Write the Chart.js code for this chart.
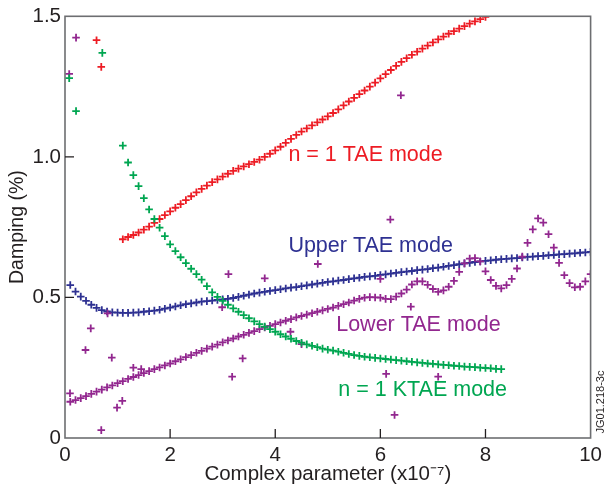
<!DOCTYPE html>
<html>
<head>
<meta charset="utf-8">
<script src="https://cdn.jsdelivr.net/npm/chart.js@4.4.1/dist/chart.umd.min.js"></script>
<style>
  html, body { margin: 0; padding: 0; background: #fff; }
  #wrap { width: 607px; height: 490px; }
</style>
</head>
<body>
<div id="wrap"><canvas id="myChart"></canvas></div>
<script>
// complex parameter grid (x10^-7)
var xGrid = [0.1,0.2,0.3,0.4,0.5,0.6,0.7,0.8,0.9,1.0,
  1.1,1.2,1.3,1.4,1.5,1.6,1.7,1.8,1.9,2.0,
  2.1,2.2,2.3,2.4,2.5,2.6,2.7,2.8,2.9,3.0,
  3.1,3.2,3.3,3.4,3.5,3.6,3.7,3.8,3.9,4.0,
  4.1,4.2,4.3,4.4,4.5,4.6,4.7,4.8,4.9,5.0,
  5.1,5.2,5.3,5.4,5.5,5.6,5.7,5.8,5.9,6.0,
  6.1,6.2,6.3,6.4,6.5,6.6,6.7,6.8,6.9,7.0,
  7.1,7.2,7.3,7.4,7.5,7.6,7.7,7.8,7.9,8.0,
  8.1,8.2,8.3,8.4,8.5,8.6,8.7,8.8,8.9,9.0,
  9.1,9.2,9.3,9.4,9.5,9.6,9.7,9.8,9.9,10.0];

// n = 1 TAE mode (starts at 1.1)
var taeN1 = [null,null,null,null,null,null,null,null,null,null,
  0.707,0.715,0.722,0.731,0.741,0.752,0.765,0.779,0.793,0.806,
  0.819,0.832,0.846,0.860,0.874,0.886,0.898,0.910,0.920,0.930,
  0.940,0.950,0.958,0.966,0.974,0.982,0.990,1.000,1.011,1.023,
  1.036,1.050,1.064,1.078,1.090,1.101,1.112,1.123,1.133,1.144,
  1.156,1.169,1.183,1.197,1.210,1.223,1.236,1.250,1.264,1.279,
  1.294,1.309,1.324,1.338,1.351,1.363,1.374,1.385,1.396,1.407,
  1.418,1.428,1.438,1.447,1.456,1.465,1.474,1.482,1.490,1.498];

// n = 1 KTAE mode (1.1 .. 8.3)
var ktae = [null,null,null,null,null,null,null,null,null,null,
  1.040,0.980,0.935,0.896,0.853,0.813,0.779,0.748,0.718,0.689,
  0.665,0.643,0.622,0.602,0.583,0.563,0.540,0.518,0.502,0.488,
  0.474,0.461,0.449,0.437,0.426,0.415,0.405,0.396,0.387,0.378,
  0.369,0.361,0.353,0.345,0.339,0.333,0.328,0.323,0.318,0.314,
  0.311,0.307,0.303,0.299,0.295,0.292,0.289,0.287,0.285,0.283,
  0.281,0.279,0.277,0.275,0.273,0.271,0.269,0.267,0.265,0.264,
  0.262,0.260,0.259,0.257,0.256,0.254,0.253,0.252,0.250,0.249,
  0.248,0.246,0.245];

// Upper TAE mode
var upperTae = [0.544,0.521,0.503,0.488,0.474,0.463,0.455,0.450,0.447,0.446,
  0.445,0.445,0.446,0.447,0.449,0.451,0.453,0.456,0.460,0.464,
  0.468,0.472,0.476,0.479,0.482,0.485,0.487,0.489,0.491,0.493,
  0.495,0.498,0.502,0.506,0.510,0.514,0.517,0.520,0.523,0.526,
  0.529,0.532,0.535,0.537,0.540,0.543,0.546,0.549,0.552,0.555,
  0.557,0.560,0.562,0.565,0.568,0.570,0.573,0.575,0.577,0.580,
  0.582,0.585,0.587,0.590,0.592,0.594,0.597,0.599,0.601,0.604,
  0.606,0.609,0.612,0.615,0.618,0.621,0.623,0.626,0.628,0.630,
  0.632,0.634,0.636,0.637,0.639,0.640,0.642,0.644,0.645,0.647,
  0.648,0.650,0.651,0.653,0.654,0.656,0.657,0.659,0.660,0.662];

// Lower TAE mode
var lowerTae = [0.129,0.135,0.142,0.149,0.157,0.165,0.172,0.180,0.187,0.195,
  0.202,0.210,0.217,0.224,0.231,0.238,0.245,0.251,0.258,0.265,
  0.273,0.280,0.288,0.295,0.303,0.310,0.318,0.325,0.332,0.340,
  0.347,0.354,0.361,0.367,0.374,0.380,0.387,0.393,0.399,0.405,
  0.411,0.417,0.423,0.429,0.434,0.439,0.444,0.449,0.454,0.459,
  0.464,0.470,0.476,0.482,0.489,0.495,0.499,0.501,0.500,0.499,
  0.495,0.494,0.503,0.514,0.528,0.546,0.557,0.557,0.545,0.530,
  0.520,0.525,0.538,0.559,0.591,0.621,0.638,0.640,0.628,0.593,
  0.562,0.541,0.532,0.544,0.566,0.603,0.645,0.694,0.742,0.781,
  0.766,0.725,0.677,0.623,0.579,0.551,0.536,0.538,0.557,0.583];

// scattered (unconverged) points
var taeStrayX = [0.60, 0.69];
var taeStrayY = [1.415, 1.32];
var ktaeStrayX = [0.08, 0.21, 0.71];
var ktaeStrayY = [1.28, 1.163, 1.37];
var lowerStrayX = [0.08,0.21,0.81,0.49,0.39,0.89,1.30,1.45,0.095,1.09,0.99,0.69,
  2.99,3.11,3.18,3.38,3.80,4.29,4.50,4.81,6.00,6.11,6.19,6.27,6.39,6.58,7.10];
var lowerStrayY = [1.295,1.424,0.443,0.390,0.313,0.286,0.250,0.245,0.159,0.132,0.108,0.028,
  0.465,0.583,0.218,0.283,0.568,0.378,0.334,0.619,0.566,0.228,0.777,0.082,1.219,0.467,0.218];

var xTicks = [0,2,4,6,8,10];
var yTicks = [0,0.5,1.0,1.5];

var red = '#ed1c24', green = '#00a651', blue = '#2e3192', purple = '#92278f';
var fontFam = "'Liberation Sans', Arial, Helvetica, sans-serif";

function pts(xs, ys){
  var out = [];
  for (var i = 0; i < ys.length; i++){
    if (ys[i] !== null) out.push({x: xs[i], y: ys[i]});
  }
  return out;
}
function ds(data, col){
  return {data: data, showLine: false, pointStyle: 'cross', pointRadius: 3.8,
    pointHoverRadius: 3.8, borderColor: col, backgroundColor: col, pointBorderWidth: 1.8};
}

var labels = [
  {text: 'n = 1 TAE mode', x: 4.25, y: 1.006, color: red},
  {text: 'Upper TAE mode', x: 4.25, y: 0.683, color: blue},
  {text: 'Lower TAE mode', x: 5.16, y: 0.402, color: purple},
  {text: 'n = 1 KTAE mode', x: 5.2, y: 0.171, color: green}
];

var frame = {
  id: 'frame',
  afterDraw: function(chart){
    var ctx = chart.ctx, a = chart.chartArea;
    var xs = chart.scales.x, ys = chart.scales.y;
    ctx.save();
    ctx.strokeStyle = '#6d6e71';
    ctx.lineWidth = 1.6;
    ctx.strokeRect(a.left, a.top, a.right - a.left, a.bottom - a.top);
    ctx.beginPath();
    xTicks.forEach(function(v){
      if (v === 0 || v === 10) return;
      var px = xs.getPixelForValue(v);
      ctx.moveTo(px, a.bottom); ctx.lineTo(px, a.bottom - 9);
    });
    yTicks.forEach(function(v){
      if (v === 0 || v === 1.5) return;
      var py = ys.getPixelForValue(v);
      ctx.moveTo(a.left, py); ctx.lineTo(a.left + 9, py);
    });
    ctx.strokeStyle = '#231f20';
    ctx.lineWidth = 1.3;
    ctx.stroke();
    // mode labels
    ctx.font = '21.5px ' + fontFam;
    ctx.textBaseline = 'middle';
    ctx.textAlign = 'left';
    labels.forEach(function(l){
      ctx.fillStyle = l.color;
      ctx.fillText(l.text, xs.getPixelForValue(l.x), ys.getPixelForValue(l.y));
    });
    // figure id
    ctx.translate(601, 402);
    ctx.rotate(-Math.PI / 2);
    ctx.font = '11px ' + fontFam;
    ctx.fillStyle = '#231f20';
    ctx.textAlign = 'center';
    ctx.fillText('JG01.218-3c', 0, 0);
    ctx.restore();
  }
};

var ctx = document.getElementById('myChart');
var myChart = new Chart(ctx, {
  type: 'scatter',
  data: {
    datasets: [
      ds(pts(xGrid, ktae), green),
      ds(pts(ktaeStrayX, ktaeStrayY), green),
      ds(pts(xGrid, taeN1), red),
      ds(pts(taeStrayX, taeStrayY), red),
      ds(pts(xGrid, lowerTae), purple),
      ds(pts(lowerStrayX, lowerStrayY), purple),
      ds(pts(xGrid, upperTae), blue)
    ]
  },
  options: {
    responsive: true,
    maintainAspectRatio: false,
    animation: false,
    layout: {padding: {top: 16, right: 13, left: 0, bottom: 0}},
    plugins: {legend: {display: false}, tooltip: {enabled: false}},
    scales: {
      x: {
        type: 'linear', min: 0, max: 10,
        afterFit: function(s){ s.height = 52; },
        afterBuildTicks: function(s){ s.ticks = xTicks.map(function(v){ return {value: v}; }); },
        grid: {display: false, drawTicks: false},
        border: {display: false},
        ticks: {padding: 5, color: '#231f20', font: {family: fontFam, size: 20.5},
          callback: function(v){ return String(v); }},
        title: {display: true, text: 'Complex parameter (x10\u207B\u2077)', color: '#231f20',
          font: {family: fontFam, size: 20.5}, padding: {top: 0, bottom: 3}}
      },
      y: {
        type: 'linear', min: 0, max: 1.5,
        afterFit: function(s){ s.width = 65; },
        afterBuildTicks: function(s){ s.ticks = yTicks.map(function(v){ return {value: v}; }); },
        grid: {display: false, drawTicks: false},
        border: {display: false},
        ticks: {padding: 4, color: '#231f20', font: {family: fontFam, size: 20.5},
          callback: function(v){ return v === 0 ? '0' : v.toFixed(1); }},
        title: {display: true, text: 'Damping (%)', color: '#231f20',
          font: {family: fontFam, size: 19.5}, padding: {top: 6, bottom: 0}}
      }
    }
  },
  plugins: [frame]
});
</script>
</body>
</html>
